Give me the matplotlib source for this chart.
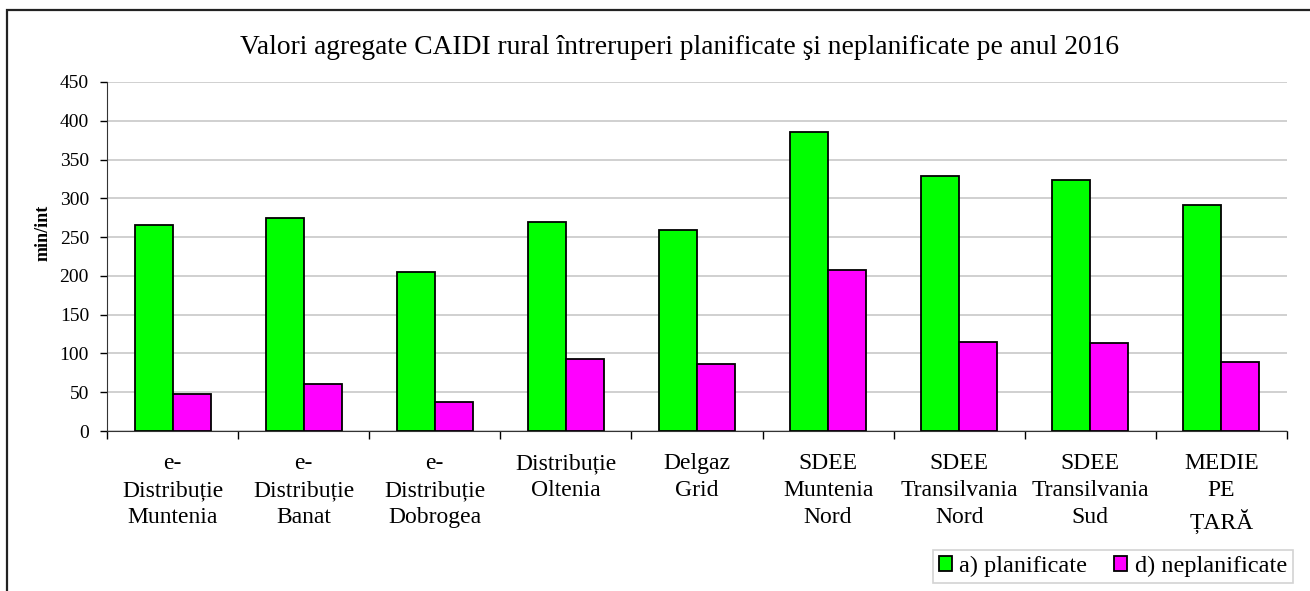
import matplotlib
matplotlib.use("Agg")
import matplotlib.pyplot as plt
import matplotlib.patches as mpatches
import numpy as np

# Data
categories = [
    "e-\nDistribuție\nMuntenia", "e-\nDistribuție\nBanat", "e-\nDistribuție\nDobrogea",
    "Distribuție\nOltenia", "Delgaz\nGrid", "SDEE\nMuntenia\nNord",
    "SDEE\nTransilvania\nNord", "SDEE\nTransilvania\nSud", "MEDIE\nPE\nȚARĂ",
]
planificate = [265, 275, 205, 269, 259, 385, 329, 324, 292]
neplanificate = [48, 60, 38, 93, 87, 208, 115, 113, 89]
series_labels = ["a) planificate", "d) neplanificate"]
yticks = [0, 50, 100, 150, 200, 250, 300, 350, 400, 450]

plt.rcParams['font.family'] = ['Liberation Serif', 'DejaVu Serif']

fig = plt.figure(figsize=(13.1, 5.91), dpi=100)
ax = fig.add_axes([0.0817, 0.2707, 0.9007, 0.5906])

# outer frame (only left and top edges visible in the reference)
fig.add_artist(mpatches.Rectangle((7 / 1310, -0.05), 1.1, 1.05 - 9.5 / 591,
                                  transform=fig.transFigure, fill=False,
                                  edgecolor='#222222', linewidth=1.6))

x = np.arange(len(categories))
w = 0.29
ax.bar(x - w / 2, planificate, w, color='#00ff00', edgecolor='black', linewidth=1.3,
       label=series_labels[0], zorder=3)
ax.bar(x + w / 2, neplanificate, w, color='#ff00ff', edgecolor='black', linewidth=1.3,
       label=series_labels[1], zorder=3)

ax.set_xlim(-0.5, len(categories) - 0.5)
ax.set_ylim(0, 450)
ax.set_yticks(yticks)
ax.set_yticklabels([str(v) for v in yticks], fontsize=14)
ax.yaxis.grid(True, color='#c8c8c8', linewidth=1.2, zorder=0)

# category labels centered, ticks between categories
ax.set_xticks(np.arange(len(categories) + 1) - 0.5)
ax.set_xticklabels([])
ax.set_xticks(x, minor=True)
ax.set_xticklabels(categories, minor=True, fontsize=17, linespacing=1.38, va='top')
ax.tick_params(axis='x', which='minor', length=0, pad=16)
ax.tick_params(axis='x', which='major', length=6, width=1, direction='out')
ax.tick_params(axis='y', length=5, width=1, direction='out', pad=8)

for s in ['top', 'right']:
    ax.spines[s].set_visible(False)
ax.spines['left'].set_color('#333333')
ax.spines['bottom'].set_color('#333333')

ax.set_ylabel('min/int', fontsize=13, fontweight='bold')
ax.yaxis.set_label_coords(-0.047, 0.567)
fig.text(680 / 1310, 1 - 48 / 591,
         'Valori agregate CAIDI rural întreruperi planificate şi neplanificate pe anul 2016',
         ha='center', va='center', fontsize=19.8)

leg = ax.legend(loc='lower right', bbox_to_anchor=(1293 / 1310, 8 / 591), bbox_transform=fig.transFigure,
                ncol=2, fontsize=17.5, frameon=True, fancybox=False, edgecolor='#c8c8c8',
                handlelength=0.55, handleheight=0.55, handletextpad=0.3, columnspacing=1.1,
                borderpad=0.25, borderaxespad=0)
leg.get_frame().set_linewidth(1.2)

fig.savefig('out.png', dpi=100)
